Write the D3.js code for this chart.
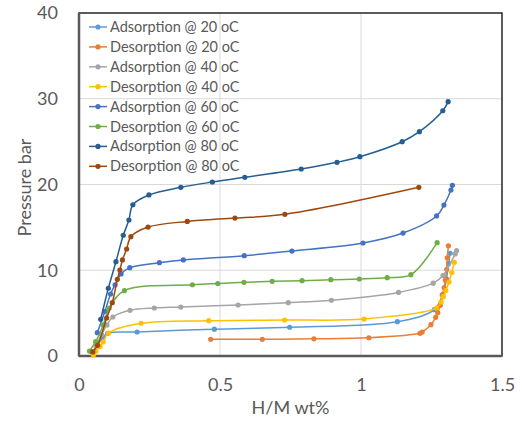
<!DOCTYPE html>
<html>
<head>
<meta charset="utf-8">
<script src="https://cdn.jsdelivr.net/npm/d3@7"></script>
<style>
  body { margin: 0; background: #fff; }
  text { font-family: Lato, "Liberation Sans", sans-serif; }
</style>
</head>
<body>
<div id="chart"></div>
<script>
// series names (legend order)
const seriesNames = [
    "Adsorption @ 20 oC", "Desorption @ 20 oC",
    "Adsorption @ 40 oC", "Desorption @ 40 oC",
    "Adsorption @ 60 oC", "Desorption @ 60 oC",
    "Adsorption @ 80 oC", "Desorption @ 80 oC"
];
const seriesColors = ["#5B9BD5", "#ED7D31", "#A5A5A5", "#FFC000", "#4472C4", "#70AD47", "#255E91", "#9E480E"];

// [H/M wt%, pressure bar]
const ads20 = [[0.045, 0.5], [0.065, 1.2], [0.085, 2.2], [0.102, 2.65], [0.206, 2.8], [0.48, 3.13], [0.747, 3.35],
    [1.129, 4.0], [1.26, 5.4], [1.29, 7.2], [1.303, 9.0], [1.311, 10.8], [1.316, 11.98]];
const des20 = [[0.467, 1.95], [0.65, 1.95], [0.833, 2.0], [1.028, 2.13], [1.209, 2.65], [1.217, 2.8], [1.248, 3.65],
    [1.265, 4.51], [1.272, 5.05], [1.281, 5.91], [1.288, 7.11], [1.295, 7.97], [1.299, 8.86], [1.304, 10.11],
    [1.306, 11.46], [1.31, 12.86]];
const ads40 = [[0.06, 1.2], [0.08, 2.5], [0.099, 3.62], [0.12, 4.55], [0.181, 5.33], [0.267, 5.6], [0.361, 5.71],
    [0.564, 5.95], [0.742, 6.22], [0.895, 6.5], [1.133, 7.41], [1.256, 8.49], [1.291, 9.39], [1.334, 11.9], [1.339, 12.28]];
const des40 = [[0.051, 0.12], [0.06, 0.55], [0.075, 1.1], [0.086, 1.63], [0.105, 2.68], [0.22, 3.81], [0.46, 4.12],
    [0.729, 4.2], [1.011, 4.31], [1.268, 5.6], [1.284, 6.3], [1.292, 6.92], [1.301, 7.64], [1.312, 8.63],
    [1.322, 9.74], [1.331, 10.93]];
const ads60 = [[0.065, 2.72], [0.092, 5.21], [0.112, 7.23], [0.128, 8.31], [0.149, 9.56], [0.18, 10.3], [0.285, 10.88],
    [0.37, 11.2], [0.586, 11.7], [0.755, 12.24], [1.007, 13.18], [1.149, 14.34], [1.268, 16.33], [1.294, 17.6],
    [1.319, 19.36], [1.324, 19.9]];
const des60 = [[0.037, 0.58], [0.059, 1.67], [0.086, 3.62], [0.107, 5.6], [0.161, 7.62], [0.402, 8.31], [0.492, 8.45],
    [0.585, 8.59], [0.685, 8.71], [0.791, 8.78], [0.893, 8.9], [0.994, 8.98], [1.093, 9.13], [1.177, 9.48], [1.27, 13.21]];
const ads80 = [[0.077, 4.28], [0.104, 7.9], [0.131, 11.0], [0.157, 14.08], [0.177, 15.86], [0.191, 17.64],
    [0.248, 18.78], [0.361, 19.67], [0.473, 20.29], [0.588, 20.84], [0.788, 21.81], [0.915, 22.59], [0.996, 23.24],
    [1.146, 24.99], [1.207, 26.16], [1.29, 28.6], [1.309, 29.66]];
const des80 = [[0.049, 0.47], [0.066, 1.25], [0.098, 4.43], [0.118, 6.22], [0.136, 8.94], [0.145, 10.03], [0.154, 11.2],
    [0.169, 12.48], [0.184, 13.91], [0.245, 15.04], [0.384, 15.69], [0.553, 16.09], [0.73, 16.52], [1.205, 19.67]];

const allSeries = [ads20, des20, ads40, des40, ads60, des60, ads80, des80];

const xTicks = [0, 0.5, 1, 1.5];
const yTicks = [0, 10, 20, 30, 40];

// dimensions
const W = 522, H = 421;
const margin = { top: 13, right: 20, bottom: 65, left: 79 };
const width = W - margin.left - margin.right;
const height = H - margin.top - margin.bottom;

const svg = d3.select("#chart")
    .append("svg")
        .attr("width", W)
        .attr("height", H)
    .append("g")
        .attr("transform", `translate(${margin.left}, ${margin.top})`);

const x = d3.scaleLinear().domain([0, 1.5]).range([0, width]);
const y = d3.scaleLinear().domain([0, 40]).range([height, 0]);

// gridlines
svg.append("g")
    .selectAll("line.hgrid")
    .data(yTicks.slice(1, -1))
    .enter().append("line")
        .attr("x1", 0).attr("x2", width)
        .attr("y1", d => y(d)).attr("y2", d => y(d))
        .attr("stroke", "#D9D9D9");

svg.append("g")
    .selectAll("line.vgrid")
    .data(xTicks.slice(1, -1))
    .enter().append("line")
        .attr("x1", d => x(d)).attr("x2", d => x(d))
        .attr("y1", 0).attr("y2", height)
        .attr("stroke", "#D9D9D9");

// plot border
svg.append("rect")
    .attr("width", width).attr("height", height)
    .attr("fill", "none")
    .attr("stroke", "#262626")
    .attr("stroke-width", 1.5);

svg.append("line")
    .attr("x1", 0).attr("x2", 0).attr("y1", 0).attr("y2", height)
    .attr("stroke", "#595959").attr("stroke-width", 2.5);
svg.append("line")
    .attr("x1", 0).attr("x2", width).attr("y1", height).attr("y2", height)
    .attr("stroke", "#595959").attr("stroke-width", 2.5);

// axes (labels only)
const xAxis = svg.append("g")
    .attr("transform", `translate(0, ${height})`)
    .call(d3.axisBottom(x).tickValues(xTicks).tickSize(0).tickPadding(22).tickFormat(d => d));
const yAxis = svg.append("g")
    .call(d3.axisLeft(y).tickValues(yTicks).tickSize(0).tickPadding(21));
[xAxis, yAxis].forEach(a => {
    a.select(".domain").remove();
    a.selectAll("text")
        .style("font-size", "18px")
        .style("font-family", "Lato, sans-serif")
        .attr("fill", "#595959");
});

// axis titles
svg.append("text")
    .attr("x", x(0.75))
    .attr("y", height + 58)
    .attr("text-anchor", "middle")
    .style("font-size", "18px")
    .attr("fill", "#595959")
    .text("H/M wt%");

svg.append("text")
    .attr("transform", `translate(${-48}, ${height / 2 + 3}) rotate(-90)`)
    .attr("text-anchor", "middle")
    .style("font-size", "18px")
    .attr("fill", "#595959")
    .text("Pressure bar");

// lines
const line = d3.line()
    .x(d => x(d[0]))
    .y(d => y(d[1]))
    .curve(d3.curveCatmullRom.alpha(0.5));

allSeries.forEach((s, i) => {
    const g = svg.append("g");
    g.append("path")
        .datum(s)
        .attr("d", line)
        .attr("fill", "none")
        .attr("stroke", seriesColors[i])
        .attr("stroke-width", 1.5);
    g.selectAll("circle")
        .data(s)
        .enter().append("circle")
            .attr("cx", d => x(d[0]))
            .attr("cy", d => y(d[1]))
            .attr("r", 2.6)
            .attr("fill", seriesColors[i]);
});

// legend
const legend = svg.append("g")
    .attr("transform", "translate(10, 14)");

seriesNames.forEach((name, i) => {
    const row = legend.append("g").attr("transform", `translate(0, ${i * 19.9})`);
    row.append("line")
        .attr("x1", 0).attr("x2", 18)
        .attr("stroke", seriesColors[i]).attr("stroke-width", 1.5);
    row.append("circle")
        .attr("cx", 9).attr("r", 2.6)
        .attr("fill", seriesColors[i]);
    row.append("text")
        .attr("x", 21).attr("y", 5)
        .style("font-size", "14.5px")
        .attr("fill", "#595959")
        .text(name);
});
</script>
</body>
</html>
